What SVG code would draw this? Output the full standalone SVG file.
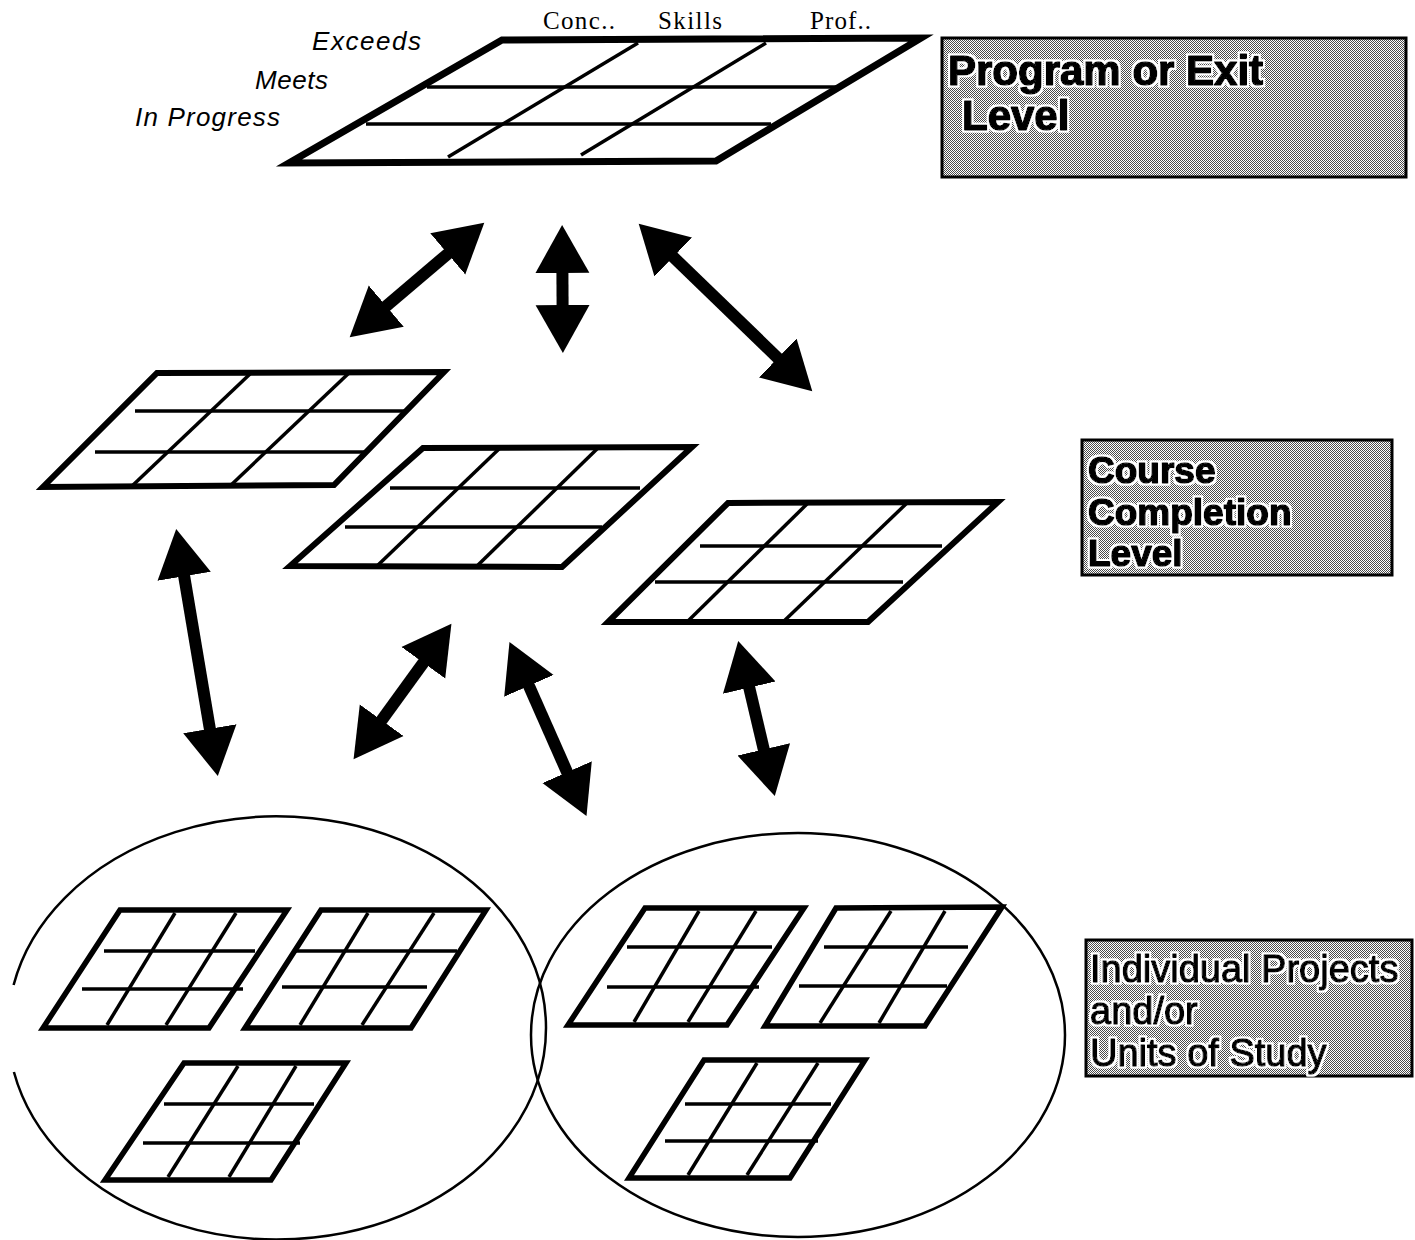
<svg xmlns="http://www.w3.org/2000/svg" width="1415" height="1240" viewBox="0 0 1415 1240">
<defs>
<pattern id="dither" width="2" height="2" patternUnits="userSpaceOnUse"><rect width="2" height="2" fill="#fff"/><rect width="1" height="1" fill="#4a4a4a"/><rect x="1" y="1" width="1" height="1" fill="#4a4a4a"/></pattern>
<filter id="halo" x="-5%" y="-20%" width="110%" height="140%"><feMorphology in="SourceAlpha" operator="dilate" radius="1.6" result="d"/><feFlood flood-color="#fff"/><feComposite in2="d" operator="in" result="w"/><feMerge><feMergeNode in="w"/><feMergeNode in="SourceGraphic"/></feMerge></filter>
<marker id="head" markerUnits="userSpaceOnUse" viewBox="0 -28 50 56" markerWidth="50" markerHeight="56" refX="1" refY="0" orient="auto-start-reverse"><path d="M0,-27 L48,0 L0,27 Z" fill="#000"/></marker>
</defs>
<style>
.outer{fill:#fff;stroke:#000;stroke-width:6;stroke-linejoin:miter}
.outer-big{fill:#fff;stroke:#000;stroke-width:7;stroke-linejoin:miter}
.outer-sm{fill:#fff;stroke:#000;stroke-width:5.5;stroke-linejoin:miter}
.inner{fill:none;stroke:#000;stroke-width:3.5}
.ell{fill:none;stroke:#000;stroke-width:2.5}
.conn{fill:none;stroke:#000;stroke-width:12;marker-start:url(#head);marker-end:url(#head)}
.box{fill:url(#dither);stroke:#000;stroke-width:3}
.boxtxt{font-family:"Liberation Sans",Arial,sans-serif;font-weight:bold;fill:#000;stroke:#000;stroke-width:1.6;stroke-linejoin:round;filter:url(#halo)}
.boxtxt2{font-family:"Liberation Sans",Arial,sans-serif;font-weight:normal;fill:#000;stroke:#000;stroke-width:1.3;stroke-linejoin:round;filter:url(#halo)}
.rowlbl{font-family:"Liberation Sans",Arial,sans-serif;font-style:italic;font-size:26px;fill:#000}
.collbl{font-family:"Liberation Serif","Times New Roman",serif;font-size:25px;fill:#000}
</style>
<rect width="1415" height="1240" fill="#fff"/>

<g id="ellipse-left"><path class="ell" d="M13.9,1072 A269 211.5 0 1 0 13.6,985"/></g>
<g id="ellipse-right"><ellipse class="ell" cx="798" cy="1035" rx="267" ry="202"/></g>

<g id="grid-program">
<polygon class="outer-big" points="502,40 921,38 716,161 289,163"/>
<line class="inner" x1="427" y1="87" x2="843" y2="87"/>
<line class="inner" x1="366" y1="124" x2="771" y2="124"/>
<line class="inner" x1="638" y1="43" x2="448" y2="157"/>
<line class="inner" x1="766" y1="43" x2="581" y2="155"/>
<text class="collbl" x="543" y="29" textLength="72">Conc..</text>
<text class="collbl" x="658" y="29" textLength="64">Skills</text>
<text class="collbl" x="810" y="29" textLength="61">Prof..</text>
<text class="rowlbl" x="312" y="50" textLength="109">Exceeds</text>
<text class="rowlbl" x="255" y="89" textLength="73">Meets</text>
<text class="rowlbl" x="135" y="126" textLength="145">In Progress</text>
</g>

<g id="label-program">
<rect class="box" x="942" y="38" width="464" height="139"/>
<text class="boxtxt" x="948" y="85" font-size="42">Program or Exit</text>
<text class="boxtxt" x="962" y="130" font-size="42">Level</text>
</g>

<g id="grid-course-1">
<polygon class="outer" points="157,373 444,372 334,485 43,487"/>
<line class="inner" x1="135" y1="411" x2="405" y2="411"/>
<line class="inner" x1="95" y1="452" x2="367" y2="452"/>
<line class="inner" x1="250" y1="374" x2="132" y2="486"/>
<line class="inner" x1="349" y1="373" x2="230" y2="486"/>
</g>

<g id="grid-course-2">
<polygon class="outer" points="423,448 692,447 562,567 290,566"/>
<line class="inner" x1="390" y1="488" x2="640" y2="488"/>
<line class="inner" x1="345" y1="527" x2="602" y2="527"/>
<line class="inner" x1="500" y1="448" x2="377" y2="566"/>
<line class="inner" x1="598" y1="448" x2="477" y2="566"/>
</g>

<g id="grid-course-3">
<polygon class="outer" points="728,503 998,502 868,622 608,622"/>
<line class="inner" x1="700" y1="546" x2="942" y2="546"/>
<line class="inner" x1="655" y1="582" x2="903" y2="582"/>
<line class="inner" x1="808" y1="503" x2="687" y2="622"/>
<line class="inner" x1="907" y1="503" x2="783" y2="622"/>
</g>

<g id="label-course">
<rect class="box" x="1082" y="440" width="310" height="135"/>
<text class="boxtxt" x="1088" y="483" font-size="37">Course</text>
<text class="boxtxt" x="1088" y="525" font-size="37">Completion</text>
<text class="boxtxt" x="1088" y="566" font-size="37">Level</text>
</g>

<g id="grid-unit-1">
<polygon class="outer-sm" points="120,910 287,910 209,1028 43,1028"/>
<line class="inner" x1="104" y1="951" x2="255" y2="951"/>
<line class="inner" x1="82" y1="989" x2="243" y2="989"/>
<line class="inner" x1="175" y1="913" x2="107" y2="1025"/>
<line class="inner" x1="236" y1="913" x2="166" y2="1025"/>
</g>
<g id="grid-unit-2">
<polygon class="outer-sm" points="321,910 486,910 411,1028 245,1028"/>
<line class="inner" x1="296" y1="951" x2="457" y2="951"/>
<line class="inner" x1="282" y1="987" x2="427" y2="987"/>
<line class="inner" x1="368" y1="913" x2="300" y2="1025"/>
<line class="inner" x1="434" y1="913" x2="362" y2="1025"/>
</g>
<g id="grid-unit-3">
<polygon class="outer-sm" points="184,1063 346,1063 271,1180 105,1180"/>
<line class="inner" x1="164" y1="1104" x2="314" y2="1104"/>
<line class="inner" x1="143" y1="1143" x2="300" y2="1143"/>
<line class="inner" x1="238" y1="1066" x2="168" y2="1177"/>
<line class="inner" x1="296" y1="1066" x2="229" y2="1177"/>
</g>
<g id="grid-unit-4">
<polygon class="outer-sm" points="645,908 804,908 727,1025 568,1025"/>
<line class="inner" x1="627" y1="947" x2="772" y2="947"/>
<line class="inner" x1="607" y1="987" x2="759" y2="987"/>
<line class="inner" x1="699" y1="911" x2="634" y2="1022"/>
<line class="inner" x1="756" y1="911" x2="688" y2="1022"/>
</g>
<g id="grid-unit-5">
<polygon class="outer-sm" points="836,908 1002,907 925,1026 765,1026"/>
<line class="inner" x1="824" y1="947" x2="968" y2="947"/>
<line class="inner" x1="799" y1="986" x2="947" y2="986"/>
<line class="inner" x1="891" y1="911" x2="820" y2="1023"/>
<line class="inner" x1="945" y1="911" x2="879" y2="1023"/>
</g>
<g id="grid-unit-6">
<polygon class="outer-sm" points="704,1060 865,1060 790,1178 629,1178"/>
<line class="inner" x1="685" y1="1104" x2="831" y2="1104"/>
<line class="inner" x1="665" y1="1141" x2="818" y2="1141"/>
<line class="inner" x1="757" y1="1063" x2="688" y2="1175"/>
<line class="inner" x1="818" y1="1063" x2="747" y2="1175"/>
</g>

<g id="label-units">
<rect class="box" x="1086" y="940" width="326" height="136"/>
<text class="boxtxt2" x="1090" y="982" font-size="38">Individual Projects</text>
<text class="boxtxt2" x="1090" y="1024" font-size="38">and/or</text>
<text class="boxtxt2" x="1090" y="1066" font-size="38">Units of Study</text>
</g>

<g id="connectors">
<line class="conn" x1="448.5" y1="253.2" x2="385.5" y2="306.8"/>
<line class="conn" x1="562.4" y1="272" x2="562.6" y2="306"/>
<line class="conn" x1="672.5" y1="256.3" x2="778.5" y2="358.7"/>
<line class="conn" x1="184" y1="575.3" x2="210" y2="729.7"/>
<line class="conn" x1="423.9" y1="661.9" x2="381.1" y2="721.1"/>
<line class="conn" x1="528.5" y1="684.9" x2="567.5" y2="773.1"/>
<line class="conn" x1="749" y1="686.7" x2="764" y2="750.3"/>
</g>
</svg>
